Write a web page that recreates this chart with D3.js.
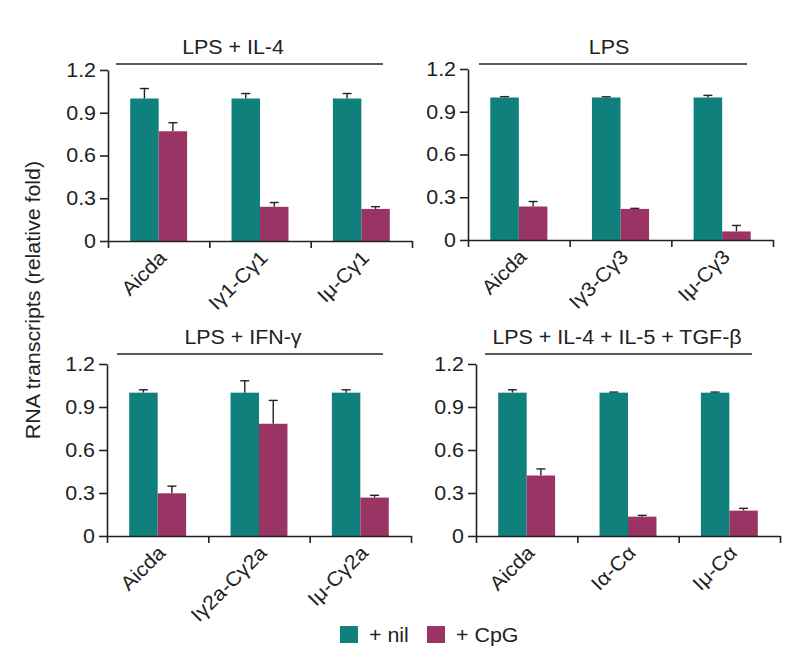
<!DOCTYPE html>
<html><head><meta charset="utf-8">
<script src="https://cdn.jsdelivr.net/npm/d3@7"></script>
<style>
html,body{margin:0;padding:0;background:#fff;}
text{font-family:"Liberation Sans",Arial,Helvetica,sans-serif;fill:#222;}
</style></head>
<body>
<svg id="chart" width="800" height="662"></svg>
<script>
// ---------- data ----------
const panelTitles = ["LPS + IL-4", "LPS", "LPS + IFN-γ", "LPS + IL-4 + IL-5 + TGF-β"];
const seriesNames = ["+ nil", "+ CpG"];
const yTicks = [0, 0.3, 0.6, 0.9, 1.2];

const il4Categories = ["Aicda", "Iγ1-Cγ1", "Iμ-Cγ1"];
const il4Nil = [1.0, 1.0, 1.0];
const il4NilErr = [0.07, 0.035, 0.035];
const il4CpG = [0.77, 0.24, 0.225];
const il4CpGErr = [0.06, 0.03, 0.016];

const lpsCategories = ["Aicda", "Iγ3-Cγ3", "Iμ-Cγ3"];
const lpsNil = [1.0, 1.0, 1.0];
const lpsNilErr = [0.006, 0.005, 0.015];
const lpsCpG = [0.235, 0.218, 0.06];
const lpsCpGErr = [0.035, 0.004, 0.042];

const ifnCategories = ["Aicda", "Iγ2a-Cγ2a", "Iμ-Cγ2a"];
const ifnNil = [1.0, 1.0, 1.0];
const ifnNilErr = [0.02, 0.083, 0.02];
const ifnCpG = [0.298, 0.783, 0.268];
const ifnCpGErr = [0.05, 0.163, 0.016];

const tgfCategories = ["Aicda", "Iα-Cα", "Iμ-Cα"];
const tgfNil = [1.0, 1.0, 1.0];
const tgfNilErr = [0.02, 0.004, 0.004];
const tgfCpG = [0.422, 0.135, 0.177];
const tgfCpGErr = [0.046, 0.009, 0.016];

// ---------- layout / style ----------
const colors = ["#10807c", "#993464"];
const layouts = [
  {x0:108, x1:412, y0:241, yTop:70,  lineY:64,  lineA:116, lineB:383, titleX:233},
  {x0:468, x1:773, y0:240, yTop:69,  lineY:64,  lineA:479, lineB:747, titleX:609},
  {x0:107, x1:411, y0:536, yTop:364, lineY:354, lineA:117, lineB:383, titleX:243},
  {x0:476, x1:780, y0:536, yTop:364, lineY:354, lineA:485, lineB:752, titleX:617}
];
const panelData = [
  {cats:il4Categories, vals:[il4Nil, il4CpG], errs:[il4NilErr, il4CpGErr]},
  {cats:lpsCategories, vals:[lpsNil, lpsCpG], errs:[lpsNilErr, lpsCpGErr]},
  {cats:ifnCategories, vals:[ifnNil, ifnCpG], errs:[ifnNilErr, ifnCpGErr]},
  {cats:tgfCategories, vals:[tgfNil, tgfCpG], errs:[tgfNilErr, tgfCpGErr]}
];
const FS = 20, STRETCH = 1.07, INK = "#222", SW = 1.6;

function stretch(sel){
  sel.each(function(){
    const l = this.getComputedTextLength();
    this.setAttribute("textLength", l*STRETCH);
    this.setAttribute("lengthAdjust", "spacingAndGlyphs");
  });
}

const svg = d3.select("#chart");

panelData.forEach((pd, i) => {
  const L = layouts[i];
  const g = svg.append("g");
  const y = d3.scaleLinear().domain([0, 1.2]).range([L.y0, L.yTop]);
  const xg = d3.scaleBand().domain(pd.cats).range([L.x0, L.x1]).paddingInner(0).paddingOuter(0);
  const xs = d3.scaleBand().domain([0,1]).range([0, xg.bandwidth()]).paddingInner(0).paddingOuter(0.78);
  const xb = d3.scaleLinear().domain([0, pd.cats.length]).range([L.x0, L.x1]);

  // bars
  pd.cats.forEach((c, ci) => {
    [0,1].forEach(si => {
      const v = pd.vals[si][ci], e = pd.errs[si][ci];
      const bx = xg(c) + xs(si), bw = xs.bandwidth();
      const cx = bx + bw/2;
      g.append("line").attr("x1", cx).attr("x2", cx).attr("y1", y(v)).attr("y2", y(v+e))
        .attr("stroke", INK).attr("stroke-width", 1.4);
      g.append("line").attr("x1", cx-4.5).attr("x2", cx+4.5).attr("y1", y(v+e)).attr("y2", y(v+e))
        .attr("stroke", INK).attr("stroke-width", 1.4);
      g.append("rect").attr("x", bx).attr("width", bw).attr("y", y(v)).attr("height", y(0)-y(v))
        .attr("fill", colors[si]);
    });
  });

  // y axis
  const ya = g.append("g").attr("transform", `translate(${L.x0},0)`)
    .call(d3.axisLeft(y).tickValues(yTicks).tickFormat(d => d === 0 ? "0" : d3.format(".1f")(d))
      .tickSize(8).tickSizeOuter(0).tickPadding(4));
  ya.selectAll("path,line").attr("stroke", INK).attr("stroke-width", SW);
  ya.selectAll("text").attr("font-size", FS).attr("font-family", null).attr("fill", INK).call(stretch);

  // x axis
  const xa = g.append("g").attr("transform", `translate(0,${L.y0})`)
    .call(d3.axisBottom(xb).tickValues(d3.range(pd.cats.length+1)).tickFormat("").tickSize(7).tickSizeOuter(0));
  xa.selectAll("path,line").attr("stroke", INK).attr("stroke-width", SW);

  // category labels
  pd.cats.forEach(c => {
    const cx = xg(c) + xg.bandwidth()/2 + 9, cy = L.y0 + 18;
    g.append("text").attr("transform", `translate(${cx},${cy}) rotate(-45)`)
      .attr("text-anchor", "end").attr("font-size", FS).text(c).call(stretch);
  });

  // title + line
  g.append("line").attr("x1", L.lineA).attr("x2", L.lineB).attr("y1", L.lineY).attr("y2", L.lineY)
    .attr("stroke", INK).attr("stroke-width", SW);
  g.append("text").attr("x", L.titleX).attr("y", L.lineY - 10).attr("text-anchor", "middle")
    .attr("font-size", FS).text(panelTitles[i]).call(stretch);
});

// y label
svg.append("text").attr("transform", "translate(40,300) rotate(-90)").attr("text-anchor", "middle")
  .attr("font-size", FS).text("RNA transcripts (relative fold)").call(stretch);

// legend
const legX = [340, 427];
seriesNames.forEach((s, i) => {
  svg.append("rect").attr("x", legX[i]).attr("y", 626).attr("width", 18).attr("height", 17).attr("fill", colors[i]);
  svg.append("text").attr("x", legX[i] + 29).attr("y", 642).attr("font-size", FS).text(s).call(stretch);
});
</script>
</body></html>
